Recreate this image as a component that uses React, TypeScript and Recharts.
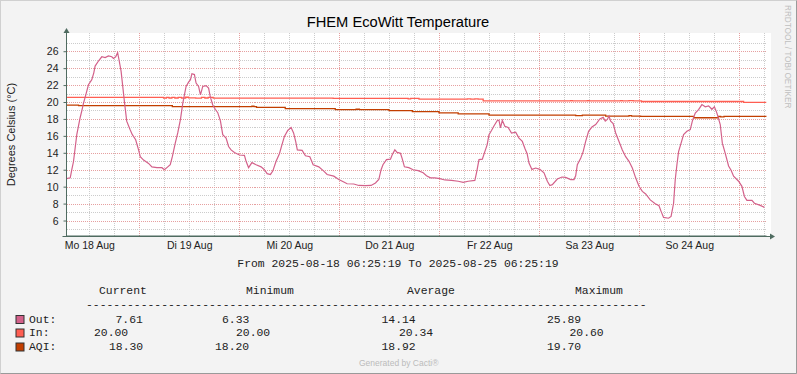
import React from 'react'
import { LineChart, Line, XAxis, YAxis, ReferenceLine } from 'recharts'

// x values are hours after 2025-08-18 06:25:19
const dayLabels = ['Mo 18 Aug', 'Di 19 Aug', 'Mi 20 Aug', 'Do 21 Aug', 'Fr 22 Aug', 'Sa 23 Aug', 'So 24 Aug']
const dayLabelHours = [5.58, 29.58, 53.58, 77.58, 101.58, 125.58, 149.58]
const midnightHours = [17.58, 41.58, 65.58, 89.58, 113.58, 137.58, 161.58]
const sixHourHours = [
  5.58, 11.58, 23.58, 29.58, 35.58, 47.58, 53.58, 59.58, 71.58, 77.58, 83.58,
  95.58, 101.58, 107.58, 119.58, 125.58, 131.58, 143.58, 149.58, 155.58, 167.58
]
const yMajor = [6, 8, 10, 12, 14, 16, 18, 20, 22, 24, 26]
const yMinor = [5, 7, 9, 11, 13, 15, 17, 19, 21, 23, 25, 27]

const outPoints: [number, number][] = [
  [0, 11.0], [0.9, 11.1], [1.27, 12.06], [1.67, 13.0], [2.07, 14.6], [2.47, 16.2], [2.87, 17.2],
  [3.27, 18.2], [3.67, 19.0], [4.07, 19.9], [4.63, 20.9], [5.27, 22.1], [6.07, 22.7], [6.55, 23.5],
  [6.87, 24.3], [7.67, 24.9], [8.47, 25.4], [9.27, 25.3], [10.07, 25.5], [10.87, 25.4], [11.27, 25.2],
  [11.8, 25.4], [12.27, 25.89], [12.6, 25.05], [13.1, 23.7], [13.5, 21.9], [13.9, 20.1], [14.45, 17.8],
  [15.25, 16.8], [15.8, 16.2], [16.6, 15.6], [17.3, 14.4], [17.7, 13.6], [18.5, 13.2], [19.7, 12.8],
  [20.5, 12.4], [21.7, 12.3], [22.9, 12.3], [23.5, 12.06], [24.3, 12.4], [24.9, 12.65], [25.4, 13.6],
  [26.1, 15.2], [26.7, 16.4], [27.35, 18.0], [27.9, 19.9], [28.7, 21.9], [29.3, 22.4], [29.75, 22.7],
  [30.1, 23.4], [30.7, 23.3], [31.1, 22.3], [31.7, 21.9], [32.15, 20.9], [32.7, 21.9], [33.5, 22.0],
  [34.1, 21.7], [34.5, 20.7], [35.1, 19.7], [35.7, 19.2], [36.3, 18.8], [36.95, 17.8], [37.5, 16.2],
  [38.3, 15.8], [38.9, 14.8], [39.5, 14.4], [40.3, 14.1], [41.5, 13.8], [42.7, 13.75], [43.1, 13.05],
  [43.7, 12.3], [44.5, 12.9], [45.5, 12.65], [46.7, 12.4], [47.5, 12.06], [48.15, 11.6], [48.95, 11.5],
  [49.5, 11.9], [50.3, 13.05], [51.1, 13.95], [51.7, 15.0], [52.3, 16.0], [53.1, 16.7], [53.9, 17.06],
  [54.5, 16.4], [55.0, 15.4], [55.4, 14.4], [56.55, 14.35], [57.35, 13.7], [58.4, 13.6], [59.2, 12.65],
  [60.55, 12.4], [61.75, 11.9], [62.55, 11.5], [64.15, 11.3], [65.35, 10.9], [66.55, 10.6], [67.35, 10.4],
  [68.95, 10.37], [70.15, 10.2], [71.75, 10.17], [73.1, 10.2], [74.15, 10.5], [74.95, 10.9], [75.5, 12.06],
  [75.95, 12.65], [76.8, 13.25], [77.75, 13.3], [78.15, 13.8], [78.8, 14.4], [79.35, 14.1], [80.15, 14.0],
  [80.55, 13.4], [81.1, 12.4], [82.15, 12.3], [83.2, 12.06], [84.4, 11.95], [85.6, 11.7], [86.4, 11.35],
  [87.35, 11.1], [88.4, 11.1], [89.6, 11.0], [90.8, 10.85], [92.4, 10.8], [94.0, 10.7], [95.2, 10.57],
  [96.4, 10.7], [98.0, 10.8], [98.4, 11.7], [99.0, 13.25], [99.8, 13.3], [100.4, 14.2], [100.95, 15.0],
  [101.4, 16.2], [102.0, 16.7], [102.55, 17.2], [103.35, 17.85], [103.8, 17.9], [104.15, 17.0],
  [104.6, 17.9], [105.2, 17.2], [106.0, 17.06], [106.8, 16.4], [107.8, 16.5], [108.6, 15.8], [109.4, 15.4],
  [110.0, 14.6], [110.55, 13.95], [111.0, 12.85], [111.7, 12.1], [112.6, 12.26], [113.6, 12.1],
  [114.6, 11.7], [115.4, 10.7], [116.0, 10.2], [116.6, 10.3], [117.8, 10.96], [118.9, 11.2], [119.8, 11.15],
  [121.0, 10.9], [121.8, 10.9], [122.2, 11.35], [122.6, 12.65], [123.4, 13.4], [124.0, 14.2], [124.6, 15.4],
  [125.3, 16.6], [126.1, 17.1], [127.0, 17.4], [128.0, 18.05], [128.8, 18.25], [129.3, 17.8], [129.8, 18.0],
  [130.2, 18.4], [130.6, 17.8], [131.2, 17.5], [131.8, 16.4], [132.6, 15.4], [133.4, 14.4], [134.2, 13.6],
  [135.0, 13.05], [135.8, 12.26], [136.6, 11.1], [137.4, 10.1], [138.2, 9.5], [139.0, 9.2], [140.1, 8.5],
  [141.3, 8.05], [142.2, 7.8], [142.7, 7.14], [143.3, 6.43], [144.5, 6.33], [145.1, 6.55], [145.7, 8.1],
  [146.1, 10.9], [146.5, 12.65], [146.9, 14.2], [147.5, 15.2], [148.1, 16.2], [148.9, 16.6], [149.7, 16.8],
  [150.2, 17.8], [150.9, 18.75], [151.7, 19.15], [152.5, 19.75], [153.3, 19.5], [154.1, 19.6], [154.9, 19.2],
  [155.5, 19.5], [156.1, 18.75], [156.9, 17.4], [157.4, 15.2], [158.1, 14.0], [158.9, 12.5], [159.5, 12.0],
  [160.1, 11.3], [161.3, 10.7], [162.1, 10.1], [162.7, 8.9], [163.3, 8.45], [164.5, 8.45], [165.1, 8.1],
  [166.5, 7.85], [167.5, 7.61]
]

const inPoints: [number, number][] = [
  [0, 20.6], [23.3, 20.53], [24, 20.6], [24.6, 20.53], [25.3, 20.6], [26, 20.53], [26.8, 20.6],
  [27.6, 20.53], [28.6, 20.62], [29.3, 20.55], [31, 20.52], [32.4, 20.6], [33.2, 20.53], [34, 20.6],
  [35.2, 20.52], [64, 20.49], [82, 20.44], [82.6, 20.49], [84.6, 20.4], [96.2, 20.44], [97, 20.4],
  [98, 20.44], [98.8, 20.4], [100, 20.2], [121, 20.23], [121.4, 20.2], [125, 20.23], [125.4, 20.2],
  [133, 20.23], [133.4, 20.2], [135, 20.23], [136, 20.2], [138, 20.12], [162.5, 20.02], [168, 20.02]
]

const aqiPoints: [number, number][] = [
  [0, 19.7], [2.9, 19.62], [25.4, 19.52], [44.5, 19.56], [45, 19.52], [45.6, 19.42], [52.5, 19.28],
  [64.5, 19.16], [69.5, 19.2], [70.3, 19.16], [77.4, 19.04], [83, 18.92], [89.4, 18.78], [94, 18.66],
  [101.4, 18.5], [122.2, 18.45], [123.8, 18.5], [129.4, 18.4], [135, 18.44], [135.6, 18.4],
  [137.8, 18.36], [150.5, 18.2], [156.5, 18.36], [157, 18.3], [157.8, 18.36], [168, 18.32]
]

const seriesNames = ['Out:', 'In:', 'AQI:']
const seriesColors = ['#D3618A', '#FF5E52', '#C23E00']
const colHeads = ['Current', 'Minimum', 'Average', 'Maximum']
const statValues = [
  ['7.61', '6.33', '14.14', '25.89'],
  ['20.00', '20.00', '20.34', '20.60'],
  ['18.30', '18.20', '18.92', '19.70']
]

// legend layout (pixel positions, mirrors the cacti text layout)
const headX = [99, 246, 407, 575]
const valX = [
  [115.5, 222, 381.5, 547],
  [94, 236, 399, 569.5],
  [109, 215, 381.5, 547]
]
const rowBase = [322.5, 336, 350]

const toRows = (pts: [number, number][]) => pts.map(([h, v]) => ({ h, v }))

const sans = '"Liberation Sans", Arial, sans-serif'
const mono = '"Liberation Mono", "Courier New", monospace'
const axisColor = '#4F6B60'
const minorGrid = '#CCCCCC'
const majorGrid = '#E6A0A0'

export default function App() {
  return (
    <div style={{ position: 'absolute', left: 0, top: 0, width: 797, height: 374, background: '#F3F3F3' }}>
      <div style={{ position: 'absolute', left: 66.5, top: 33, width: 704, height: 203, background: '#FFFFFF' }} />
      <div style={{ position: 'absolute', left: 0, top: 0 }}>
        <LineChart width={797} height={374} margin={{ top: 33, right: 30.5, bottom: 108, left: 0 }}>
          {sixHourHours.map((h) => (
            <ReferenceLine key={'vx' + h} x={h} stroke={minorGrid} strokeDasharray="1 1" shapeRendering="crispEdges" />
          ))}
          {midnightHours.map((h) => (
            <ReferenceLine key={'mx' + h} x={h} stroke={majorGrid} strokeDasharray="1 1" shapeRendering="crispEdges" />
          ))}
          {yMinor.map((v) => (
            <ReferenceLine key={'ny' + v} y={v} stroke={minorGrid} strokeDasharray="1 1" shapeRendering="crispEdges" />
          ))}
          {yMajor.map((v) => (
            <ReferenceLine key={'my' + v} y={v} stroke={majorGrid} strokeDasharray="1 1" shapeRendering="crispEdges" />
          ))}
          <XAxis
            type="number"
            dataKey="h"
            domain={[0, 168]}
            allowDataOverflow
            ticks={dayLabelHours}
            tickFormatter={(v: number) => dayLabels[dayLabelHours.indexOf(v)] ?? ''}
            interval={0}
            height={30}
            tickLine={false}
            tickSize={0}
            tickMargin={6}
            stroke={axisColor}
            tick={{ fill: '#222', fontSize: 10.5, fontFamily: sans }}
          />
          <YAxis
            type="number"
            domain={[4.23, 28.21]}
            allowDataOverflow
            ticks={yMajor}
            interval={0}
            width={66.5}
            tickSize={3}
            tickMargin={5}
            stroke={axisColor}
            tick={{ fill: '#222', fontSize: 10.5, fontFamily: sans }}
          />
          <Line data={toRows(aqiPoints)} dataKey="v" type="stepAfter" stroke={seriesColors[2]}
            strokeWidth={1.3} dot={false} isAnimationActive={false} />
          <Line data={toRows(inPoints)} dataKey="v" type="stepAfter" stroke={seriesColors[1]}
            strokeWidth={1.3} dot={false} isAnimationActive={false} />
          <Line data={toRows(outPoints)} dataKey="v" type="linear" stroke={seriesColors[0]}
            strokeWidth={1.2} dot={false} isAnimationActive={false} />
        </LineChart>
      </div>
      <svg width={797} height={374} style={{ position: 'absolute', left: 0, top: 0, pointerEvents: 'none' }}>
        <text x={398} y={27} textAnchor="middle" fontFamily={sans} fontSize={14.7} fill="#000">
          FHEM EcoWitt Temperature
        </text>
        <text x={0} y={0} transform="translate(10.5,134.5) rotate(-90)" textAnchor="middle"
          dominantBaseline="central" fontFamily={sans} fontSize={11} fill="#222">
          Degrees Celsius (°C)
        </text>
        <text x={0} y={0} transform="translate(787.5,5) rotate(90)" textAnchor="start"
          dominantBaseline="central" fontFamily={sans} fontSize={8.2} fill="#BFBFBF">
          RRDTOOL / TOBI OETIKER
        </text>
        {/* axis arrows */}
        <line x1={66.5} y1={29} x2={66.5} y2={33} stroke={axisColor} />
        <path d="M63.5,33 L69.5,33 L66.5,28 Z" fill={axisColor} />
        <line x1={62.5} y1={236.5} x2={771} y2={236.5} stroke={axisColor} />
        <path d="M770,233.5 L770,239.5 L775,236.5 Z" fill={axisColor} />
        <text x={398} y={267} textAnchor="middle" fontFamily={mono} fontSize={11.4} fill="#222"
          style={{ whiteSpace: 'pre' }}>
          From 2025-08-18 06:25:19 To 2025-08-25 06:25:19
        </text>
        {colHeads.map((c, i) => (
          <text key={c} x={headX[i]} y={294} fontFamily={mono} fontSize={11.4} fill="#222">{c}</text>
        ))}
        <text x={86} y={307.5} fontFamily={mono} fontSize={11.4} fill="#222">
          {'-'.repeat(82)}
        </text>
        {seriesNames.map((n, r) => (
          <g key={n}>
            <rect x={16} y={rowBase[r] - 7} width={8} height={8} fill={seriesColors[r]} stroke="#333" />
            <text x={29} y={rowBase[r]} fontFamily={mono} fontSize={11.4} fill="#222">{n}</text>
            {statValues[r].map((v, c) => (
              <text key={c} x={valX[r][c]} y={rowBase[r]} fontFamily={mono} fontSize={11.4} fill="#222">{v}</text>
            ))}
          </g>
        ))}
        <text x={359} y={366} fontFamily={sans} fontSize={8.5} fill="#BBBBBB">Generated by Cacti®</text>
        <rect x={0.5} y={0.5} width={796} height={373} fill="none" stroke="#D0D0D0" />
        <path d="M796.5,0.5 L796.5,373.5 L0.5,373.5" fill="none" stroke="#9A9A9A" />
      </svg>
    </div>
  )
}
